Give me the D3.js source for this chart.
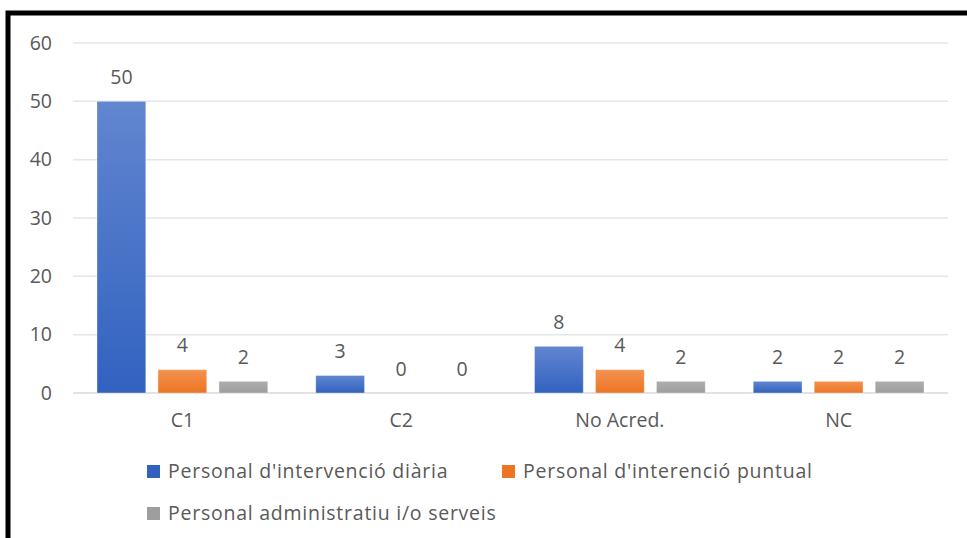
<!DOCTYPE html>
<html><head><meta charset="utf-8">
<script src="https://cdn.jsdelivr.net/npm/d3@7"></script>
<style>body{margin:0;background:#fff;}svg{display:block;}</style>
</head><body>
<svg id="c" width="967" height="538"></svg>
<script>
const categories = ["C1", "C2", "No Acred.", "NC"];
const seriesNames = ["Personal d'intervenció diària", "Personal d'interenció puntual", "Personal administratiu i/o serveis"];
const diaria = [50, 3, 8, 2];
const puntual = [4, 0, 4, 2];
const admin = [2, 0, 2, 2];
const yTicks = [0, 10, 20, 30, 40, 50, 60];
const colors = [["#6286d0", "#3162c0"], ["#f39250", "#ec7524"], ["#adadad", "#9e9e9e"]];

const series = [diaria, puntual, admin];
const svg = d3.select("#c");
const font = "'Open Sans', sans-serif";
const txt = "#595959";

// frame
svg.append("path").attr("d", "M8,540 L8,13 L970,13").attr("fill", "none").attr("stroke", "#000").attr("stroke-width", 5);

const x0 = d3.scaleBand().domain(categories).range([73, 948]).paddingInner(0).paddingOuter(0);
const x1 = d3.scaleBand().domain([0, 1, 2]).range([24, x0.bandwidth() - 24]).paddingInner(0.2).paddingOuter(0);
const y = d3.scaleLinear().domain([0, 60]).range([393, 43]);

const defs = svg.append("defs");
colors.forEach((c, i) => {
  const g = defs.append("linearGradient").attr("id", "g" + i).attr("x1", 0).attr("y1", 0).attr("x2", 0).attr("y2", 1);
  g.append("stop").attr("offset", "0%").attr("stop-color", c[0]);
  g.append("stop").attr("offset", "100%").attr("stop-color", c[1]);
});

// gridlines
svg.append("g").selectAll("line").data(yTicks).join("line")
  .attr("x1", 73).attr("x2", 948).attr("y1", d => y(d)).attr("y2", d => y(d))
  .attr("stroke", d => d === 0 ? "#d9d9d9" : "#e3e6ea").attr("stroke-width", 1.5);

// y labels
svg.append("g").selectAll("text").data(yTicks).join("text")
  .attr("x", 52).attr("y", d => y(d)).attr("dy", "0.35em").attr("text-anchor", "end")
  .attr("font-family", font).attr("font-size", 19.5).attr("fill", txt).text(d => d);

// bars
const groups = svg.append("g").selectAll("g").data(categories).join("g")
  .attr("transform", d => `translate(${x0(d)},0)`);
groups.each(function(cat, ci) {
  const g = d3.select(this);
  series.forEach((s, si) => {
    const v = s[ci];
    if (v > 0) {
      g.append("rect").attr("x", x1(si)).attr("width", x1.bandwidth())
        .attr("y", y(v)).attr("height", y(0) - y(v))
        .attr("fill", `url(#g${si})`).attr("stroke", "rgba(255,255,255,0.35)").attr("stroke-width", 1);
    }
    g.append("text").attr("x", x1(si) + x1.bandwidth() / 2).attr("y", y(v) - 24).attr("dy", "0.35em")
      .attr("text-anchor", "middle").attr("font-family", font).attr("font-size", 19.5).attr("fill", txt).text(v);
  });
});

// category labels
svg.append("g").selectAll("text").data(categories).join("text")
  .attr("x", d => x0(d) + x0.bandwidth() / 2).attr("y", 420).attr("dy", "0.35em").attr("text-anchor", "middle")
  .attr("font-family", font).attr("font-size", 19.5).attr("fill", txt).text(d => d);

// legend
const legPos = [[147, 471], [502, 471], [147, 513]];
const leg = svg.append("g").selectAll("g").data(seriesNames).join("g")
  .attr("transform", (d, i) => `translate(${legPos[i][0]},${legPos[i][1]})`);
leg.append("rect").attr("x", 0).attr("y", -6).attr("width", 13).attr("height", 13).attr("fill", (d, i) => colors[i][1]);
leg.append("text").attr("x", 21).attr("y", 0).attr("dy", "0.35em")
  .attr("font-family", font).attr("font-size", 19.5).attr("letter-spacing", 0.75).attr("fill", txt).text(d => d);
</script>
</body></html>
